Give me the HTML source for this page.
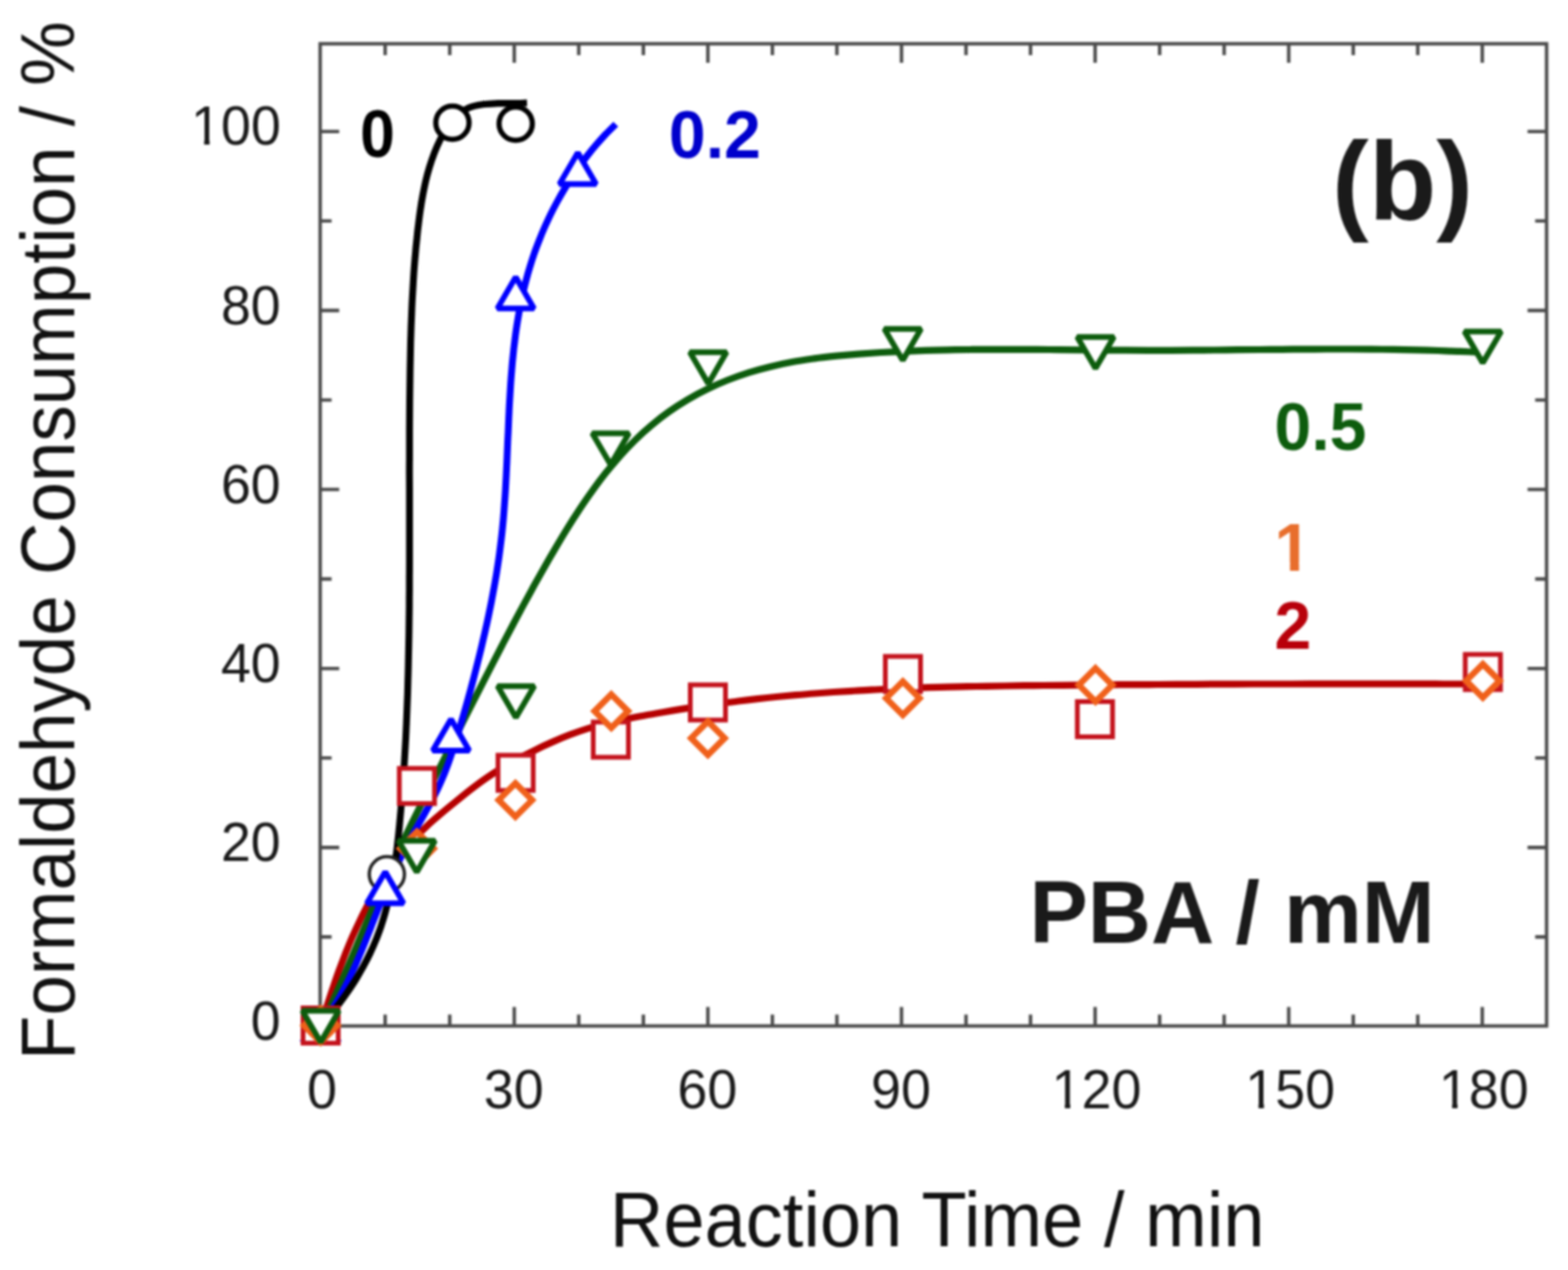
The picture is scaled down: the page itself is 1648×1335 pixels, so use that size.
<!DOCTYPE html>
<html><head><meta charset="utf-8"><title>Formaldehyde consumption vs reaction time</title>
<style>
html,body{margin:0;padding:0;background:#fff;}
body{width:1648px;height:1335px;overflow:hidden;}
svg{display:block;filter:blur(1.0px);}
text{font-family:"Liberation Sans",Arial,sans-serif;}
.tl text{font-size:56.5px;fill:#1a1a1a;}
.lb{font-size:69.5px;font-weight:bold;}

.big{font-size:116px;font-weight:bold;}
.pba{font-size:93.5px;font-weight:bold;}
.ttl{font-size:80px;fill:#111;}
.ttlx{font-size:81px;fill:#111;}
</style></head>
<body>
<svg width="1648" height="1335" viewBox="0 0 1648 1335">
<rect width="1648" height="1335" fill="#fff"/>
<rect x="336.5" y="46.0" width="1289.0" height="1032.5" fill="none" stroke="#4a4a4a" stroke-width="3.6"/>
<path d="M404.8,1078.5V1066.5M404.8,46.0V58.0M472.7,1078.5V1066.5M472.7,46.0V58.0M540.5,1078.5V1058.5M540.5,46.0V66.0M608.3,1078.5V1066.5M608.3,46.0V58.0M676.2,1078.5V1066.5M676.2,46.0V58.0M744.0,1078.5V1058.5M744.0,46.0V66.0M811.8,1078.5V1066.5M811.8,46.0V58.0M879.6,1078.5V1066.5M879.6,46.0V58.0M947.5,1078.5V1058.5M947.5,46.0V66.0M1015.3,1078.5V1066.5M1015.3,46.0V58.0M1083.1,1078.5V1066.5M1083.1,46.0V58.0M1151.0,1078.5V1058.5M1151.0,46.0V66.0M1218.8,1078.5V1066.5M1218.8,46.0V58.0M1286.6,1078.5V1066.5M1286.6,46.0V58.0M1354.5,1078.5V1058.5M1354.5,46.0V66.0M1422.3,1078.5V1066.5M1422.3,46.0V58.0M1490.1,1078.5V1066.5M1490.1,46.0V58.0M1557.9,1078.5V1058.5M1557.9,46.0V66.0M336.5,984.9H348.5M1625.5,984.9H1613.5M336.5,890.9H356.5M1625.5,890.9H1605.5M336.5,796.8H348.5M1625.5,796.8H1613.5M336.5,702.7H356.5M1625.5,702.7H1605.5M336.5,608.6H348.5M1625.5,608.6H1613.5M336.5,514.5H356.5M1625.5,514.5H1605.5M336.5,420.5H348.5M1625.5,420.5H1613.5M336.5,326.4H356.5M1625.5,326.4H1605.5M336.5,232.3H348.5M1625.5,232.3H1613.5M336.5,138.2H356.5M1625.5,138.2H1605.5" stroke="#4a4a4a" stroke-width="3.6" fill="none"/>
<clipPath id="cx120"><rect x="1055.3" y="1096.7" width="226.0" height="62.2"/><rect x="1119.2" y="1108.0" width="5.7" height="67.8"/><rect x="1135.8" y="1096.7" width="169.5" height="84.8"/></clipPath>
<clipPath id="cx150"><rect x="1258.8" y="1096.7" width="226.0" height="62.2"/><rect x="1322.7" y="1108.0" width="5.7" height="67.8"/><rect x="1339.2" y="1096.7" width="169.5" height="84.8"/></clipPath>
<clipPath id="cx180"><rect x="1462.3" y="1096.7" width="226.0" height="62.2"/><rect x="1526.2" y="1108.0" width="5.7" height="67.8"/><rect x="1542.7" y="1096.7" width="169.5" height="84.8"/></clipPath>
<clipPath id="cy100"><rect x="150.8" y="84.6" width="226.0" height="62.2"/><rect x="214.6" y="95.9" width="5.7" height="67.8"/><rect x="231.2" y="84.6" width="169.5" height="84.8"/></clipPath>
<g class="tl"><text x="322.8" y="1164.5">0</text><text x="508.6" y="1164.5">30</text><text x="712.1" y="1164.5">60</text><text x="915.6" y="1164.5">90</text><text x="1105.3" y="1164.5" clip-path="url(#cx120)">120</text><text x="1308.8" y="1164.5" clip-path="url(#cx150)">150</text><text x="1512.3" y="1164.5" clip-path="url(#cx180)">180</text><text x="263.6" y="1093.2">0</text><text x="232.2" y="905.1">20</text><text x="232.2" y="716.9">40</text><text x="232.2" y="528.8">60</text><text x="232.2" y="340.6">80</text><text x="200.8" y="152.4" clip-path="url(#cy100)">100</text></g>
<path d="M337.1,1079.0 C338.1,1075.8 340.9,1066.3 342.9,1059.9 C345.0,1053.5 347.0,1047.1 349.1,1040.8 C351.3,1034.4 353.4,1028.1 355.7,1021.8 C358.0,1015.5 360.4,1009.2 362.8,1003.0 C365.3,996.8 367.8,990.5 370.5,984.4 C373.2,978.3 376.0,972.2 378.9,966.2 C381.8,960.2 384.8,954.2 388.0,948.4 C391.2,942.5 394.5,936.7 398.0,931.0 C401.5,925.3 405.2,919.7 409.0,914.2 C412.8,908.8 416.8,903.4 421.0,898.1 C425.1,892.9 429.5,887.8 434.0,882.9 C438.5,878.0 443.3,873.4 448.2,868.8 C453.1,864.2 458.2,859.9 463.3,855.6 C468.4,851.2 473.6,847.0 478.8,842.8 C484.0,838.5 489.2,834.2 494.5,830.1 C499.8,826.0 505.1,822.0 510.6,818.2 C516.1,814.5 521.7,810.9 527.4,807.4 C533.1,804.0 538.9,800.7 544.7,797.5 C550.6,794.3 556.5,791.3 562.5,788.4 C568.5,785.4 574.6,782.6 580.8,779.9 C586.9,777.2 593.1,774.6 599.4,772.2 C605.7,769.8 612.0,767.6 618.4,765.6 C624.7,763.7 631.2,761.9 637.7,760.3 C644.2,758.8 650.7,757.4 657.2,756.1 C663.8,754.7 670.3,753.5 676.9,752.3 C683.5,751.0 690.1,749.9 696.6,748.7 C703.2,747.6 709.8,746.5 716.4,745.4 C723.0,744.4 729.6,743.4 736.3,742.4 C742.9,741.4 749.5,740.5 756.1,739.6 C762.8,738.7 769.4,737.8 776.1,737.0 C782.7,736.2 789.4,735.4 796.0,734.7 C802.7,733.9 809.3,733.2 816.0,732.5 C822.6,731.9 829.3,731.3 836.0,730.7 C842.6,730.1 849.3,729.5 856.0,729.0 C862.6,728.5 869.3,728.0 876.0,727.5 C882.6,727.1 889.3,726.7 896.0,726.3 C902.7,725.9 909.3,725.5 916.0,725.2 C922.7,724.8 929.4,724.5 936.0,724.2 C942.7,723.9 949.4,723.7 956.1,723.4 C962.8,723.2 969.5,722.9 976.1,722.7 C982.8,722.5 989.5,722.3 996.2,722.2 C1002.9,722.0 1009.6,721.8 1016.2,721.7 C1022.9,721.6 1029.6,721.4 1036.3,721.3 C1043.0,721.2 1049.7,721.1 1056.4,721.0 C1063.1,720.9 1069.8,720.8 1076.4,720.7 C1083.1,720.6 1089.8,720.6 1096.5,720.5 C1103.2,720.4 1109.9,720.3 1116.6,720.3 C1123.3,720.2 1130.0,720.1 1136.6,720.1 C1143.3,720.0 1150.0,720.0 1156.7,719.9 C1163.4,719.9 1170.1,719.8 1176.8,719.7 C1183.5,719.7 1190.2,719.6 1196.8,719.6 C1203.5,719.6 1210.2,719.5 1216.9,719.5 C1223.6,719.4 1230.3,719.4 1237.0,719.4 C1243.7,719.3 1250.3,719.3 1257.0,719.3 C1263.7,719.2 1270.4,719.2 1277.1,719.2 C1283.8,719.2 1290.5,719.1 1297.2,719.1 C1303.8,719.1 1310.5,719.1 1317.2,719.0 C1323.9,719.0 1330.6,719.0 1337.3,719.0 C1344.0,719.0 1350.7,719.0 1357.3,719.0 C1364.0,718.9 1370.7,718.9 1377.4,718.9 C1384.1,718.9 1390.8,718.9 1397.5,718.9 C1404.2,718.9 1410.9,718.9 1417.5,718.9 C1424.2,718.9 1430.9,718.9 1437.6,718.9 C1444.3,718.9 1451.0,718.9 1457.7,718.9 C1464.4,718.9 1471.0,718.9 1477.7,718.9 C1484.4,718.9 1491.1,718.9 1497.8,718.9 C1504.5,718.9 1511.2,719.0 1517.9,719.0 C1524.6,719.0 1531.2,719.0 1537.9,719.0 C1544.6,719.0 1554.7,719.0 1558.0,719.0" fill="none" stroke="#b60000" stroke-width="7.2" stroke-linejoin="round"/>
<path d="M337.2,1079.1 C338.9,1075.6 343.9,1065.0 347.2,1057.9 C350.5,1050.8 353.7,1043.7 356.8,1036.6 C360.0,1029.4 363.1,1022.2 366.1,1015.1 C369.2,1007.9 372.2,1000.7 375.3,993.5 C378.3,986.3 381.3,979.1 384.4,971.9 C387.4,964.8 390.5,957.6 393.5,950.4 C396.6,943.2 399.7,936.1 402.9,929.0 C406.0,921.8 409.3,914.7 412.5,907.6 C415.8,900.6 419.1,893.5 422.5,886.5 C425.9,879.5 429.3,872.5 432.7,865.5 C436.2,858.5 439.7,851.5 443.2,844.6 C446.7,837.6 450.2,830.7 453.7,823.7 C457.2,816.7 460.7,809.8 464.3,802.8 C467.8,795.9 471.3,788.9 474.8,782.0 C478.3,775.0 481.8,768.1 485.4,761.1 C488.9,754.2 492.4,747.3 495.9,740.3 C499.4,733.4 502.9,726.5 506.5,719.6 C510.0,712.7 513.5,705.8 517.1,698.9 C520.6,692.0 524.2,685.1 527.8,678.2 C531.4,671.3 535.0,664.4 538.7,657.5 C542.3,650.6 546.0,643.8 549.7,636.9 C553.4,630.1 557.2,623.2 560.9,616.3 C564.7,609.5 568.6,602.7 572.5,595.8 C576.3,589.0 580.3,582.1 584.3,575.4 C588.3,568.6 592.3,561.8 596.5,555.1 C600.6,548.4 604.9,541.7 609.2,535.2 C613.6,528.6 618.0,522.1 622.6,515.8 C627.2,509.4 631.9,503.2 636.7,497.1 C641.6,491.0 646.6,485.1 651.7,479.3 C656.9,473.5 662.2,467.9 667.7,462.5 C673.2,457.1 678.9,451.9 684.8,447.0 C690.7,442.0 696.8,437.2 703.1,432.8 C709.4,428.3 716.0,424.1 722.7,420.1 C729.4,416.1 736.3,412.4 743.4,409.0 C750.4,405.6 757.6,402.4 764.9,399.5 C772.2,396.6 779.7,394.0 787.1,391.6 C794.6,389.3 802.1,387.2 809.7,385.4 C817.3,383.5 825.0,381.9 832.6,380.5 C840.3,379.1 848.1,378.0 855.8,376.9 C863.5,375.8 871.3,375.0 879.1,374.2 C886.9,373.4 894.7,372.7 902.5,372.1 C910.3,371.5 918.1,371.0 925.9,370.5 C933.7,370.1 941.5,369.7 949.3,369.3 C957.1,369.0 964.8,368.7 972.6,368.4 C980.4,368.2 988.2,368.0 996.0,367.8 C1003.8,367.7 1011.6,367.5 1019.4,367.5 C1027.2,367.4 1035.0,367.3 1042.8,367.3 C1050.6,367.3 1058.4,367.3 1066.2,367.3 C1074.0,367.3 1081.8,367.4 1089.7,367.4 C1097.5,367.5 1105.3,367.5 1113.1,367.6 C1120.9,367.7 1128.7,367.8 1136.5,367.8 C1144.3,367.9 1152.1,368.0 1159.9,368.1 C1167.7,368.1 1175.5,368.2 1183.3,368.2 C1191.1,368.3 1198.9,368.3 1206.7,368.3 C1214.5,368.3 1222.3,368.3 1230.1,368.3 C1237.9,368.2 1245.7,368.2 1253.6,368.1 C1261.4,368.1 1269.2,368.0 1277.0,368.0 C1284.8,367.9 1292.6,367.8 1300.4,367.7 C1308.2,367.7 1316.0,367.6 1323.8,367.5 C1331.6,367.4 1339.5,367.4 1347.3,367.3 C1355.1,367.2 1362.9,367.2 1370.7,367.1 C1378.5,367.1 1386.3,367.0 1394.1,367.0 C1401.9,367.0 1409.7,367.0 1417.5,367.0 C1425.3,367.0 1433.1,367.1 1441.0,367.1 C1448.8,367.2 1456.6,367.3 1464.4,367.4 C1472.2,367.5 1480.0,367.7 1487.8,367.9 C1495.6,368.0 1503.4,368.2 1511.2,368.5 C1519.0,368.8 1526.8,369.0 1534.6,369.4 C1542.4,369.7 1554.1,370.3 1558.0,370.5" fill="none" stroke="#0d5c0d" stroke-width="7.2" stroke-linejoin="round"/>
<path d="M336.6,1078.8 C338.1,1076.8 342.6,1070.8 345.4,1066.7 C348.2,1062.6 350.8,1058.5 353.4,1054.2 C355.9,1050.0 358.3,1045.7 360.6,1041.4 C362.9,1037.1 365.1,1032.7 367.2,1028.3 C369.3,1023.9 371.4,1019.4 373.4,1014.9 C375.3,1010.5 377.2,1006.0 379.1,1001.4 C381.0,996.9 382.8,992.3 384.7,987.8 C386.5,983.2 388.3,978.7 390.1,974.1 C391.9,969.5 393.6,965.0 395.5,960.4 C397.3,955.8 399.1,951.3 401.0,946.7 C402.8,942.2 404.7,937.7 406.7,933.2 C408.6,928.7 410.6,924.2 412.6,919.7 C414.6,915.3 416.7,910.8 418.8,906.4 C420.9,902.0 423.1,897.6 425.3,893.2 C427.6,888.8 429.9,884.5 432.2,880.2 C434.6,875.9 437.0,871.6 439.4,867.3 C441.8,863.1 444.3,858.8 446.7,854.5 C449.1,850.2 451.5,846.0 453.8,841.6 C456.1,837.3 458.3,833.0 460.4,828.5 C462.5,824.1 464.4,819.7 466.3,815.2 C468.1,810.7 469.8,806.1 471.5,801.5 C473.1,796.9 474.7,792.2 476.2,787.6 C477.7,782.9 479.2,778.3 480.7,773.6 C482.1,768.9 483.6,764.2 484.9,759.4 C486.3,754.7 487.7,750.0 489.0,745.2 C490.4,740.5 491.7,735.8 493.0,731.0 C494.3,726.3 495.5,721.5 496.8,716.8 C498.1,712.0 499.3,707.2 500.5,702.5 C501.7,697.7 502.9,693.0 504.1,688.2 C505.3,683.4 506.4,678.7 507.5,673.9 C508.7,669.1 509.8,664.4 510.8,659.6 C511.9,654.8 512.9,650.0 513.9,645.2 C514.9,640.4 515.9,635.7 516.8,630.9 C517.7,626.1 518.6,621.2 519.5,616.4 C520.4,611.6 521.2,606.8 522.0,602.0 C522.7,597.1 523.5,592.3 524.2,587.5 C524.9,582.6 525.5,577.8 526.1,572.9 C526.7,568.0 527.3,563.2 527.8,558.3 C528.3,553.4 528.8,548.5 529.2,543.6 C529.6,538.7 530.0,533.8 530.3,528.9 C530.7,524.0 531.0,519.1 531.3,514.1 C531.6,509.2 531.8,504.3 532.1,499.4 C532.3,494.4 532.6,489.5 532.8,484.5 C533.0,479.6 533.2,474.7 533.4,469.7 C533.6,464.8 533.8,459.8 534.1,454.9 C534.3,450.0 534.5,445.0 534.7,440.1 C534.9,435.2 535.2,430.2 535.4,425.3 C535.7,420.4 536.0,415.5 536.3,410.5 C536.6,405.6 536.9,400.7 537.3,395.8 C537.7,390.9 538.1,386.0 538.5,381.1 C539.0,376.2 539.5,371.4 540.0,366.5 C540.6,361.6 541.2,356.8 541.8,351.9 C542.5,347.1 543.2,342.2 544.0,337.4 C544.8,332.6 545.6,327.8 546.5,323.0 C547.4,318.2 548.4,313.5 549.5,308.7 C550.6,303.9 551.7,299.2 553.0,294.5 C554.2,289.8 555.5,285.1 557.0,280.4 C558.4,275.7 559.9,271.0 561.5,266.4 C563.1,261.8 564.9,257.2 566.7,252.6 C568.5,248.0 570.4,243.4 572.4,238.9 C574.4,234.4 576.5,229.9 578.6,225.5 C580.8,221.1 583.1,216.7 585.4,212.4 C587.8,208.0 590.2,203.7 592.8,199.5 C595.3,195.3 597.9,191.1 600.6,187.0 C603.3,182.8 606.1,178.8 609.0,174.8 C611.8,170.8 614.8,166.9 617.8,163.0 C620.8,159.2 623.9,155.4 627.1,151.7 C630.3,148.0 633.6,144.4 636.9,140.8 C640.3,137.3 645.5,132.2 647.2,130.5" fill="none" stroke="#0000ff" stroke-width="7.2" stroke-linejoin="round"/>
<path d="M336.8,1078.9 C338.5,1076.9 343.6,1071.2 346.9,1067.2 C350.1,1063.2 353.3,1059.2 356.4,1055.1 C359.6,1050.9 362.6,1046.7 365.5,1042.5 C368.4,1038.2 371.3,1033.9 374.0,1029.5 C376.7,1025.1 379.3,1020.6 381.8,1016.1 C384.2,1011.6 386.6,1007.0 388.8,1002.4 C391.0,997.8 393.1,993.1 395.0,988.3 C397.0,983.6 398.7,978.8 400.4,974.0 C402.0,969.1 403.5,964.3 404.9,959.3 C406.2,954.4 407.5,949.5 408.6,944.5 C409.7,939.5 410.8,934.5 411.7,929.4 C412.7,924.4 413.5,919.3 414.3,914.2 C415.1,909.1 415.8,904.0 416.4,898.9 C417.1,893.8 417.6,888.7 418.2,883.5 C418.8,878.4 419.3,873.3 419.8,868.1 C420.3,863.0 420.7,857.8 421.2,852.7 C421.6,847.6 422.1,842.4 422.5,837.3 C422.9,832.1 423.3,827.0 423.7,821.9 C424.0,816.7 424.4,811.6 424.7,806.4 C425.0,801.3 425.3,796.2 425.6,791.0 C425.9,785.9 426.2,780.7 426.5,775.6 C426.7,770.5 427.0,765.3 427.2,760.2 C427.4,755.0 427.6,749.9 427.8,744.8 C428.0,739.6 428.2,734.5 428.4,729.4 C428.5,724.2 428.7,719.1 428.8,713.9 C429.0,708.8 429.1,703.7 429.2,698.5 C429.3,693.4 429.4,688.2 429.5,683.1 C429.6,678.0 429.7,672.8 429.8,667.7 C429.9,662.6 429.9,657.4 430.0,652.3 C430.1,647.1 430.1,642.0 430.2,636.9 C430.2,631.7 430.2,626.6 430.3,621.4 C430.3,616.3 430.3,611.2 430.3,606.0 C430.4,600.9 430.4,595.8 430.4,590.6 C430.4,585.5 430.4,580.3 430.4,575.2 C430.4,570.1 430.4,564.9 430.4,559.8 C430.4,554.6 430.4,549.5 430.4,544.4 C430.4,539.2 430.4,534.1 430.4,529.0 C430.4,523.8 430.4,518.7 430.4,513.5 C430.4,508.4 430.3,503.3 430.3,498.1 C430.3,493.0 430.3,487.8 430.4,482.7 C430.4,477.6 430.4,472.4 430.4,467.3 C430.4,462.1 430.4,457.0 430.4,451.9 C430.4,446.7 430.5,441.6 430.5,436.4 C430.5,431.3 430.6,426.2 430.6,421.0 C430.7,415.9 430.7,410.7 430.8,405.6 C430.9,400.5 430.9,395.3 431.0,390.2 C431.1,385.0 431.2,379.9 431.3,374.8 C431.4,369.6 431.5,364.5 431.6,359.3 C431.8,354.2 431.9,349.0 432.1,343.9 C432.3,338.8 432.5,333.6 432.7,328.5 C432.9,323.3 433.1,318.2 433.4,313.1 C433.7,307.9 434.0,302.8 434.3,297.7 C434.6,292.5 434.9,287.4 435.3,282.3 C435.7,277.1 436.1,272.0 436.6,266.9 C437.0,261.7 437.5,256.6 438.1,251.5 C438.6,246.4 439.1,241.2 439.8,236.1 C440.4,231.0 441.0,225.9 441.8,220.8 C442.5,215.7 443.3,210.6 444.3,205.5 C445.2,200.5 446.3,195.4 447.4,190.4 C448.6,185.4 449.9,180.5 451.4,175.6 C452.9,170.7 454.6,165.8 456.4,161.0 C458.3,156.2 460.3,151.5 462.6,146.9 C464.9,142.2 467.4,137.5 470.3,133.3 C473.1,129.1 476.2,124.9 479.9,121.6 C483.6,118.3 487.7,115.4 492.3,113.5 C496.9,111.5 502.2,110.5 507.4,109.7 C512.5,108.9 518.0,108.9 523.3,108.7 C528.5,108.5 533.9,108.8 539.0,108.7 C544.1,108.6 551.4,108.2 553.9,108.1" fill="none" stroke="#000" stroke-width="7.2" stroke-linejoin="round"/>
<circle cx="337" cy="1079" r="17.5" fill="#fff" stroke="#000" stroke-width="5.5"/>
<circle cx="406.6" cy="919" r="18.5" fill="#fff" stroke="#222" stroke-width="3.5"/>
<circle cx="475.5" cy="129" r="17.5" fill="#fff" stroke="#000" stroke-width="5.5"/>
<circle cx="542" cy="130" r="17.5" fill="#fff" stroke="#000" stroke-width="5.5"/>
<polygon points="337.0,1062.5 356.2,1095.5 317.8,1095.5" fill="#fff" stroke="#0000ff" stroke-width="6.0" stroke-linejoin="miter" stroke-miterlimit="1.6"/>
<polygon points="404.9,916.5 424.1,949.5 385.6,949.5" fill="#fff" stroke="#0000ff" stroke-width="6.0" stroke-linejoin="miter" stroke-miterlimit="1.6"/>
<polygon points="474.0,755.9 493.2,788.9 454.8,788.9" fill="#fff" stroke="#0000ff" stroke-width="6.0" stroke-linejoin="miter" stroke-miterlimit="1.6"/>
<polygon points="542.0,291.2 561.2,324.2 522.8,324.2" fill="#fff" stroke="#0000ff" stroke-width="6.0" stroke-linejoin="miter" stroke-miterlimit="1.6"/>
<polygon points="607.3,160.5 626.5,193.5 588.0,193.5" fill="#fff" stroke="#0000ff" stroke-width="6.0" stroke-linejoin="miter" stroke-miterlimit="1.6"/>
<rect x="318.5" y="1059.5" width="37.0" height="37.0" fill="#fff" stroke="#c4121c" stroke-width="5.0"/>
<rect x="419.7" y="807.7" width="37.0" height="37.0" fill="#fff" stroke="#c4121c" stroke-width="5.0"/>
<rect x="523.4" y="793.9" width="37.0" height="37.0" fill="#fff" stroke="#c4121c" stroke-width="5.0"/>
<rect x="623.5" y="759.0" width="37.0" height="37.0" fill="#fff" stroke="#c4121c" stroke-width="5.0"/>
<rect x="725.5" y="719.9" width="37.0" height="37.0" fill="#fff" stroke="#c4121c" stroke-width="5.0"/>
<rect x="930.5" y="690.0" width="37.0" height="37.0" fill="#fff" stroke="#c4121c" stroke-width="5.0"/>
<rect x="1132.3" y="737.5" width="37.0" height="37.0" fill="#fff" stroke="#c4121c" stroke-width="5.0"/>
<rect x="1540.0" y="687.9" width="37.0" height="37.0" fill="#fff" stroke="#c4121c" stroke-width="5.0"/>
<polygon points="337.0,1060.4 354.6,1078.0 337.0,1095.6 319.4,1078.0" fill="#fff" stroke="#f0601a" stroke-width="6.6" stroke-linejoin="miter"/>
<polygon points="438.2,874.4 455.8,892.0 438.2,909.6 420.6,892.0" fill="#fff" stroke="#f0601a" stroke-width="6.6" stroke-linejoin="miter"/>
<polygon points="541.7,823.4 559.3,841.0 541.7,858.6 524.1,841.0" fill="#fff" stroke="#f0601a" stroke-width="6.6" stroke-linejoin="miter"/>
<polygon points="642.5,730.0 660.1,747.6 642.5,765.2 624.9,747.6" fill="#fff" stroke="#f0601a" stroke-width="6.6" stroke-linejoin="miter"/>
<polygon points="744.0,758.3 761.6,775.9 744.0,793.5 726.4,775.9" fill="#fff" stroke="#f0601a" stroke-width="6.6" stroke-linejoin="miter"/>
<polygon points="948.9,716.4 966.5,734.0 948.9,751.6 931.3,734.0" fill="#fff" stroke="#f0601a" stroke-width="6.6" stroke-linejoin="miter"/>
<polygon points="1151.4,702.5 1169.0,720.1 1151.4,737.7 1133.8,720.1" fill="#fff" stroke="#f0601a" stroke-width="6.6" stroke-linejoin="miter"/>
<polygon points="1558.5,698.1 1576.1,715.7 1558.5,733.3 1540.9,715.7" fill="#fff" stroke="#f0601a" stroke-width="6.6" stroke-linejoin="miter"/>
<polygon points="337.0,1095.5 356.2,1062.5 317.8,1062.5" fill="#fff" stroke="#0d5c0d" stroke-width="6.0" stroke-linejoin="miter" stroke-miterlimit="1.6"/>
<polygon points="438.0,916.7 457.2,883.7 418.8,883.7" fill="#fff" stroke="#0d5c0d" stroke-width="6.0" stroke-linejoin="miter" stroke-miterlimit="1.6"/>
<polygon points="542.2,754.3 561.5,721.3 523.0,721.3" fill="#fff" stroke="#0d5c0d" stroke-width="6.0" stroke-linejoin="miter" stroke-miterlimit="1.6"/>
<polygon points="641.8,488.5 661.0,455.5 622.5,455.5" fill="#fff" stroke="#0d5c0d" stroke-width="6.0" stroke-linejoin="miter" stroke-miterlimit="1.6"/>
<polygon points="744.4,403.2 763.6,370.2 725.1,370.2" fill="#fff" stroke="#0d5c0d" stroke-width="6.0" stroke-linejoin="miter" stroke-miterlimit="1.6"/>
<polygon points="948.8,378.8 968.0,345.8 929.5,345.8" fill="#fff" stroke="#0d5c0d" stroke-width="6.0" stroke-linejoin="miter" stroke-miterlimit="1.6"/>
<polygon points="1151.4,387.3 1170.7,354.3 1132.2,354.3" fill="#fff" stroke="#0d5c0d" stroke-width="6.0" stroke-linejoin="miter" stroke-miterlimit="1.6"/>
<polygon points="1558.4,381.4 1577.7,348.4 1539.2,348.4" fill="#fff" stroke="#0d5c0d" stroke-width="6.0" stroke-linejoin="miter" stroke-miterlimit="1.6"/>
<text class="lb" x="378.5" y="165" fill="#000" textLength="36.5" lengthAdjust="spacingAndGlyphs">0</text>
<text class="lb" x="703" y="165.5" fill="#0000cc">0.2</text>
<text class="lb" x="1339.5" y="472.5" fill="#0d5c0d">0.5</text>
<clipPath id="c1"><rect x="1300" y="500" width="100" height="91.3"/><rect x="1355.8" y="500" width="9.5" height="120"/></clipPath>
<text class="lb" x="1339.5" y="600" fill="#e86e2c" clip-path="url(#c1)">1</text>
<text class="lb" x="1339.5" y="682" fill="#b8000a">2</text>
<text class="big" x="1400" y="231" fill="#1a1a1a">(b)</text>
<text class="pba" x="1082" y="990.5" fill="#1a1a1a" textLength="426" lengthAdjust="spacingAndGlyphs">PBA / mM</text>
<text class="ttlx" x="985" y="1309.8" text-anchor="middle" textLength="688" lengthAdjust="spacingAndGlyphs">Reaction Time / min</text>
<text class="ttl" transform="translate(77.8,568.3) rotate(-90)" x="0" y="0" text-anchor="middle" textLength="1092" lengthAdjust="spacingAndGlyphs">Formaldehyde Consumption / %</text>
</svg>
</body></html>
